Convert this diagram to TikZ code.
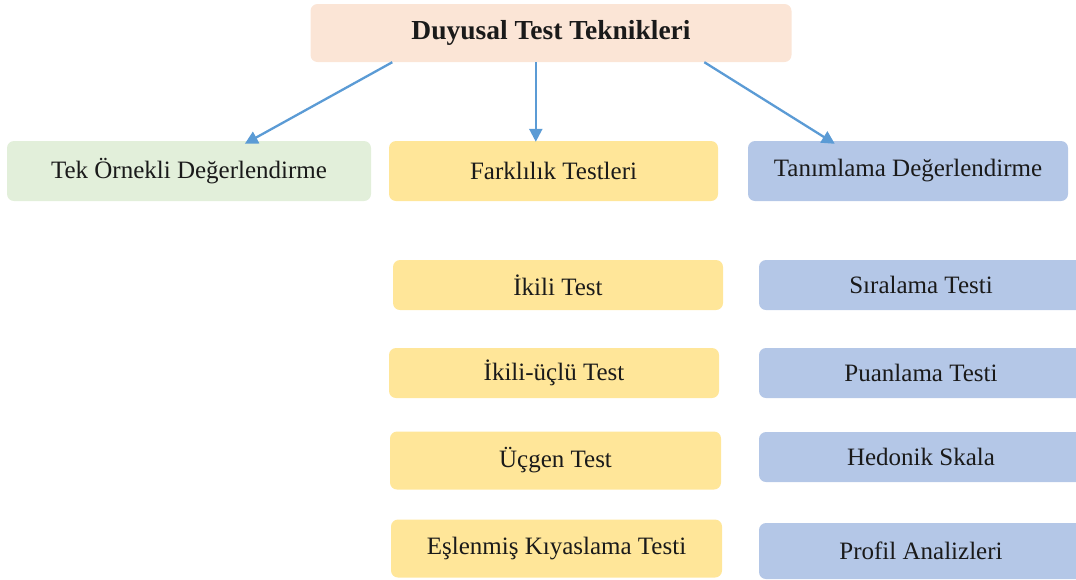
\documentclass[tikz,border=0pt]{standalone}
\usepackage{fontspec}
\setmainfont{Liberation Serif}
\usetikzlibrary{arrows.meta,calc}
\definecolor{peach}{HTML}{FBE5D6}
\definecolor{greenbox}{HTML}{E2EFDA}
\definecolor{yellowbox}{HTML}{FFE699}
\definecolor{bluebox}{HTML}{B4C7E7}
\definecolor{arrowblue}{HTML}{5B9BD5}
\definecolor{txt}{HTML}{1A1A1A}
\tikzset{
  box/.style={rounded corners=7pt, inner sep=0pt, text=txt, font=\fontsize{25}{28}\selectfont},
  peachbox/.style={box, fill=peach, font=\fontsize{27.5}{30}\selectfont\bfseries},
  gbox/.style={box, fill=greenbox},
  ybox/.style={box, fill=yellowbox},
  bbox/.style={box, fill=bluebox},
  conn/.style={draw=arrowblue, line width=2.3pt, -{Triangle[length=13pt,width=13pt]}}
}
\begin{document}
\begin{tikzpicture}[x=1pt,y=-1pt]
\useasboundingbox (0,0) rectangle (1076,579);
% top
\node[peachbox, minimum width=481pt, minimum height=58pt] (top) at (551,33) {Duyusal Test Teknikleri};
% level 2
\node[gbox, minimum width=364pt, minimum height=60pt] (tek) at (189,171) {Tek Örnekli Değerlendirme};
\node[ybox, minimum width=329pt, minimum height=60pt] (fark) at (553.5,171) {Farklılık Testleri};
\node[bbox, minimum width=320pt, minimum height=60pt] (tan) at (908,171) {Tanımlama Değerlendirme};
% yellow column
\node[ybox, minimum width=330pt, minimum height=50pt] (ikili) at (558,285) {İkili Test};
\node[ybox, minimum width=330pt, minimum height=50pt] (ikiliuclu) at (554,373) {İkili-üçlü Test};
\node[ybox, minimum width=331pt, minimum height=58pt] (ucgen) at (555.5,460.5) {Üçgen Test};
\node[ybox, minimum width=331pt, minimum height=58pt] (esl) at (556.5,548.5) {Eşlenmiş Kıyaslama Testi};
% blue column
\node[bbox, minimum width=324pt, minimum height=50pt] (sira) at (921,285) {Sıralama Testi};
\node[bbox, minimum width=324pt, minimum height=50pt] (puan) at (921,373) {Puanlama Testi};
\node[bbox, minimum width=324pt, minimum height=50pt] (hed) at (921,457) {Hedonik Skala};
\node[bbox, minimum width=324pt, minimum height=56pt] (prof) at (921,551) {Profil Analizleri};
% connectors
\draw[conn] ([xshift=82pt]top.south west) -- ([xshift=238pt,yshift=-3pt]tek.north west);
\draw[conn] ([xshift=225.5pt]top.south west) -- ([xshift=147pt,yshift=-1pt]fark.north west);
\draw[conn] ([xshift=394pt]top.south west) -- ([xshift=87pt,yshift=-3pt]tan.north west);
\end{tikzpicture}
\end{document}
